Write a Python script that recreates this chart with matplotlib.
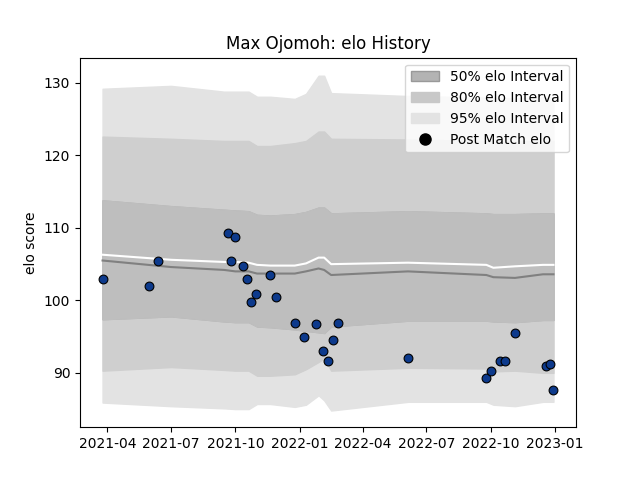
import matplotlib
matplotlib.use("Agg")
import matplotlib.pyplot as plt
import pandas as pd

band_dates = pd.to_datetime(["2021-03-25","2021-07-01","2021-09-15","2021-10-01","2021-10-20","2021-11-01",
    "2021-11-20","2021-12-25","2022-01-10","2022-01-28","2022-02-05","2022-02-15","2022-06-05",
    "2022-09-25","2022-10-05","2022-11-05","2022-12-15","2022-12-30"])
median = [105.5,104.6,104.2,104.0,104.0,103.7,103.7,103.7,104.0,104.4,104.2,103.5,104.0,103.5,103.2,103.1,103.6,103.6]
mean   = [106.3,105.6,105.3,105.3,105.2,104.9,104.8,104.8,105.1,105.9,105.9,105.0,105.2,104.9,104.5,104.7,104.9,104.9]
u50 = [113.8,113.0,112.5,112.4,112.3,111.8,111.7,111.9,112.2,112.8,112.8,112.0,112.3,112.0,111.9,111.9,112.0,112.0]
l50 = [97.4,97.8,97.1,97.0,97.0,96.4,96.3,96.0,95.8,95.6,95.5,96.4,97.2,97.2,97.1,97.0,97.3,97.3]
u80 = [122.6,122.3,122.0,122.0,122.0,121.3,121.3,121.7,122.0,123.3,123.3,122.3,122.2,122.0,121.9,121.9,122.0,122.0]
l80 = [90.3,90.8,90.4,90.3,90.3,89.6,89.6,89.8,90.5,91.5,92.0,90.3,90.7,90.6,90.2,90.3,90.0,90.0]
u95 = [129.2,129.6,128.8,128.8,128.8,128.1,128.1,127.8,128.5,131.0,131.0,128.6,128.2,128.0,127.9,127.9,128.0,128.0]
l95 = [85.9,85.4,85.1,85.0,85.0,85.7,85.7,85.3,85.6,86.9,86.2,84.8,86.0,86.0,85.6,85.4,86.0,86.0]

match_dates = pd.to_datetime(["2021-03-25","2021-05-30","2021-06-12","2021-09-20","2021-09-25","2021-09-30",
    "2021-10-12","2021-10-18","2021-10-24","2021-10-30","2021-11-20","2021-11-28","2021-12-25","2022-01-07",
    "2022-01-25","2022-02-03","2022-02-10","2022-02-17","2022-02-25","2022-06-05","2022-09-25","2022-10-02",
    "2022-10-15","2022-10-22","2022-11-05","2022-12-20","2022-12-25","2022-12-30"])
elo = [103.0,102.0,105.5,109.3,105.5,108.8,104.7,103.0,99.8,100.9,103.5,100.5,96.9,95.0,96.7,93.0,91.6,
       94.5,96.9,92.0,89.3,90.2,91.6,91.7,95.5,91.0,91.2,87.7]

fig, ax = plt.subplots(figsize=(6.4, 4.8), dpi=100)
ax.fill_between(band_dates, l50, u50, color="#b3b3b3", label="50% elo Interval", zorder=3)
ax.fill_between(band_dates, l80, u80, color="#cfcfcf", label="80% elo Interval", zorder=2)
ax.fill_between(band_dates, l95, u95, color="#e3e3e3", label="95% elo Interval", zorder=1)
ax.fill_between(band_dates, l50, u50, color="#bebebe", zorder=3)
ax.plot(band_dates, median, color="#808080", lw=1.5, zorder=4)
ax.plot(band_dates, mean, color="white", lw=1.5, zorder=4)
ax.scatter(match_dates, elo, s=40, color="#0d3a8c", edgecolor="black", lw=0.8, zorder=5, label="Post Match elo")
h, l = ax.get_legend_handles_labels()
from matplotlib.lines import Line2D
import matplotlib.patches as mp
handles = [mp.Patch(color="#b3b3b3", ec="#999999"), mp.Patch(color="#c8c8c8"), mp.Patch(color="#e3e3e3"),
           Line2D([], [], marker="o", ls="", color="black", markersize=8)]
ax.legend(handles, ["50% elo Interval","80% elo Interval","95% elo Interval","Post Match elo"], loc="upper right")
ax.set_title("Max Ojomoh: elo History")
ax.set_ylabel("elo score")
ax.set_ylim(82.5, 133.5)
ax.set_yticks([90,100,110,120,130])
fig.savefig("out.png")
